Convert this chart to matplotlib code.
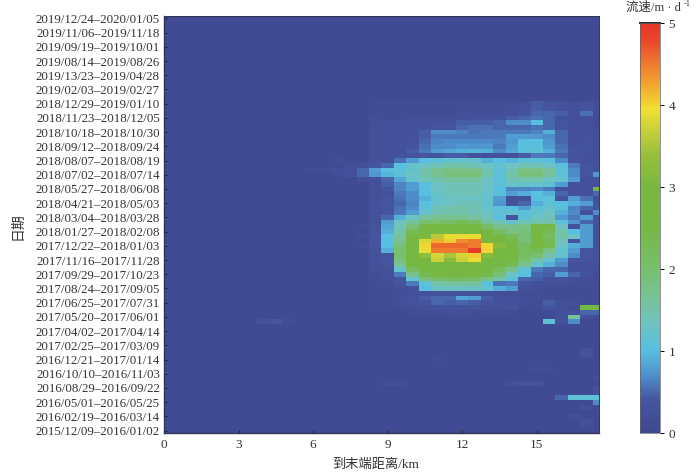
import numpy as np
import matplotlib
matplotlib.use('Agg')
import matplotlib.pyplot as plt
from matplotlib.colors import LinearSegmentedColormap

plt.rcParams['font.family'] = ['Liberation Serif', 'Noto Sans CJK SC', 'DejaVu Sans']

# tick labels, top to bottom
date_labels = [
    '2019/12/24–2020/01/05', '2019/11/06–2019/11/18', '2019/09/19–2019/10/01',
    '2019/08/14–2019/08/26', '2019/13/23–2019/04/28', '2019/02/03–2019/02/27',
    '2018/12/29–2019/01/10', '2018/11/23–2018/12/05', '2018/10/18–2018/10/30',
    '2018/09/12–2018/09/24', '2018/08/07–2018/08/19', '2018/07/02–2018/07/14',
    '2018/05/27–2018/06/08', '2018/04/21–2018/05/03', '2018/03/04–2018/03/28',
    '2018/01/27–2018/02/08', '2017/12/22–2018/01/03', '2017/11/16–2017/11/28',
    '2017/09/29–2017/10/23', '2017/08/24–2017/09/05', '2017/06/25–2017/07/31',
    '2017/05/20–2017/06/01', '2017/04/02–2017/04/14', '2017/02/25–2017/03/09',
    '2016/12/21–2017/01/14', '2016/10/10–2016/11/03', '2016/08/29–2016/09/22',
    '2016/05/01–2016/05/25', '2016/02/19–2016/03/14', '2015/12/09–2016/01/02',
]
km_ticks = [0, 3, 6, 9, 12, 15]
speed_ticks = [0, 1, 2, 3, 4, 5]

n_rows = 88
n_cols = 36
quiet = 0.12

# rows 18..64 from the top, columns 17..35 (9 km to the end)
active_rows = [
    [.2, .2, .2, .2, .2, .2, .2, .2, .2, .2, .2, .25, .3, .45, .4, .35, .3, .35, .2],
    [.2, .2, .2, .2, .2, .2, .2, .2, .2, .2, .25, .3, .35, .45, .4, .35, .3, .4, .2],
    [.2, .2, .2, .2, .2, .2, .2, .25, .25, .25, .25, .3, .4, .5, .5, .45, .3, .55, .2],
    [.25, .2, .2, .25, .25, .25, .25, .3, .35, .35, .35, .45, .5, .55, .5, .35, .3, .3, .2],
    [.25, .25, .25, .3, .3, .3, .35, .45, .45, .45, .5, .7, .7, 1.0, .5, .4, .3, .3, .2],
    [.3, .3, .3, .3, .35, .4, .4, .5, .55, .55, .5, .5, .5, .55, .5, .4, .3, .3, .2],
    [.3, .3, .3, .35, .45, .7, .7, .65, .55, .6, .6, .6, .6, .65, .9, .5, .3, .35, .25],
    [.3, .3, .3, .35, .45, .6, .6, .6, .6, .6, .6, .8, .8, .75, .7, .5, .3, .35, .25],
    [.3, .3, .3, .35, .5, .65, .7, .7, .7, .7, .65, .75, 1.0, 1.0, .75, .5, .3, .35, .25],
    [.3, .3, .35, .4, .55, .7, .7, .75, .75, .75, .6, .8, 1.05, 1.05, .8, .55, .35, .35, .25],
    [.3, .3, .35, .45, .6, .8, .85, .9, .95, .9, .7, .85, 1.05, 1.1, .9, .6, .4, .35, .3],
    [.3, .3, .35, .4, .4, .4, .45, .45, .35, .35, .35, .3, .45, .6, .6, .5, .35, .3, .3],
    [.3, .3, .55, .8, 1.0, 1.1, 1.2, 1.2, 1.2, .9, 1.0, .95, 1.1, 1.1, 1.05, .7, .4, .35, .3],
    [.4, .5, 1.0, 1.2, 1.3, 1.4, 1.5, 1.5, 1.4, 1.3, 1.2, 1.3, 1.4, 1.4, 1.3, 1.05, .6, .4, .3],
    [.8, 1.0, 1.1, 1.2, 1.5, 1.7, 1.8, 1.8, 1.75, 1.4, 1.1, 1.4, 1.8, 1.8, 1.6, 1.1, .7, .4, .3],
    [.75, .95, 1.1, 1.3, 1.5, 1.7, 1.9, 1.9, 1.9, 1.5, 1.1, 1.5, 1.9, 1.9, 1.6, 1.1, .7, .4, .75],
    [.3, .5, .85, 1.2, 1.4, 1.5, 1.6, 1.6, 1.6, 1.3, 1.1, 1.4, 1.5, 1.5, 1.3, 1.2, .8, .3, .3],
    [.3, .45, .65, .8, 1.05, 1.3, 1.4, 1.4, 1.4, 1.3, 1.1, 1.25, 1.2, 1.2, 1.1, .8, .35, .3, .3],
    [.3, .4, .65, .8, 1.0, 1.3, 1.4, 1.4, 1.4, 1.3, 1.05, .65, .65, .7, .6, .3, .3, .3, 2.6],
    [.3, .35, .6, .7, 1.0, 1.25, 1.35, 1.4, 1.4, 1.2, 1.05, .8, .9, 1.0, .9, .5, .3, .3, .5],
    [.3, .4, .55, .7, .9, 1.2, 1.3, 1.3, 1.3, 1.2, .8, .3, .35, 1.0, 1.1, .4, .8, .55, .3],
    [.3, .4, .5, .65, 1.0, 1.25, 1.3, 1.4, 1.4, 1.2, .75, .35, .5, .9, 1.1, 1.0, .9, .8, .35],
    [.3, .4, .55, .7, 1.1, 1.4, 1.5, 1.5, 1.4, 1.2, 1.1, 1.0, .8, 1.1, 1.2, 1.1, .65, .5, .4],
    [.3, .4, .6, .8, 1.2, 1.4, 1.5, 1.5, 1.4, 1.3, 1.1, 1.2, 1.1, 1.2, 1.3, .9, .7, .3, .7],
    [.35, .5, .9, 1.3, 1.6, 1.7, 1.7, 1.7, 1.6, 1.4, 1.0, .4, 1.1, 1.3, 1.4, .8, .6, .8, .3],
    [.35, .8, 1.3, 1.6, 2.0, 2.0, 2.1, 2.3, 2.1, 1.6, 1.4, 1.2, 1.4, 1.5, 1.5, 1.1, .75, .5, .35],
    [.35, .85, 1.4, 1.9, 2.5, 2.6, 2.6, 2.7, 2.6, 2.1, 1.7, 1.7, 1.8, 2.6, 2.5, 1.3, .35, .8, .35],
    [.4, .9, 1.5, 2.3, 2.7, 2.8, 2.8, 2.8, 2.8, 2.5, 2.1, 1.8, 1.9, 2.7, 2.3, 1.5, 1.0, .8, .3],
    [.4, 1.0, 1.6, 2.5, 3.1, 3.6, 3.9, 3.9, 3.9, 2.7, 2.7, 2.3, 1.9, 2.6, 2.2, 1.5, 1.3, .8, .3],
    [.4, 1.0, 1.7, 2.7, 3.8, 4.2, 4.05, 4.4, 4.5, 2.8, 2.8, 2.6, 1.9, 2.7, 2.3, 1.4, .4, .8, .3],
    [.4, 1.0, 1.9, 2.8, 4.0, 4.6, 4.6, 4.6, 4.5, 4.0, 3.2, 2.7, 2.2, 2.8, 2.4, 1.3, .9, .8, .3],
    [.35, .9, 2.0, 2.8, 3.9, 4.5, 4.5, 4.5, 4.9, 4.0, 2.9, 2.8, 2.2, 2.3, 1.8, 1.2, .8, .4, .3],
    [.3, .4, 2.0, 2.8, 3.3, 3.75, 3.5, 3.75, 4.05, 3.2, 2.8, 2.8, 2.1, 2.0, 1.5, 1.2, .7, .4, .3],
    [.3, .4, 1.9, 2.8, 3.0, 3.7, 3.2, 3.7, 3.9, 2.9, 2.8, 2.7, 2.0, 1.5, 1.2, .8, .4, .4, .3],
    [.3, .4, 1.6, 2.6, 2.8, 2.9, 2.9, 3.0, 2.9, 2.8, 2.6, 2.3, 1.7, 1.2, .9, .7, .3, .3, .25],
    [.3, .3, 1.2, 2.2, 2.6, 2.8, 2.8, 2.8, 2.7, 2.6, 2.2, 1.7, 1.1, .6, .5, .5, .3, .3, .25],
    [.25, .3, .6, 1.7, 2.4, 2.7, 2.7, 2.7, 2.7, 2.4, 1.9, 1.3, 1.0, .5, .45, .8, .5, .35, .2],
    [.2, .3, .4, 1.2, 1.9, 2.1, 2.2, 2.2, 2.1, 1.8, 1.5, 1.1, .5, .45, .35, .35, .3, .25, .2],
    [.2, .2, .4, .6, 1.1, 1.5, 1.6, 1.6, 1.6, 1.0, .55, .6, .4, .3, .3, .3, .25, .2, .2],
    [.2, .2, .3, .3, 1.0, 1.3, 1.3, 1.3, 1.25, 1.2, .9, .8, .3, .25, .2, .2, .2, .2, .2],
    [.2, .2, .22, .25, .25, .3, .3, .3, .3, .3, .25, .25, .2, .2, .2, .2, .2, .2, .2],
    [.2, .2, .28, .35, .45, .5, .5, .85, .8, .45, .35, .3, .22, .2, .2, .2, .2, .2, .2],
    [.2, .2, .28, .35, .4, .5, .45, .5, .45, .4, .3, .3, .22, .2, .45, .3, .25, .2, .2],
    [.18, .18, .2, .25, .3, .35, .35, .35, .35, .3, .3, .35, .2, .2, .4, .3, .2, 2.6, 2.6],
    [.15, .15, .15, .18, .2, .25, .25, .25, .2, .2, .2, .2, .15, .15, .15, .3, .3, .5, .5],
    [.15, .15, .15, .15, .15, .15, .18, .18, .18, .15, .15, .15, .15, .15, .15, .35, 1.6, .35, .2],
    [.15, .15, .15, .15, .15, .15, .15, .15, .15, .15, .15, .15, .15, .15, 1.1, .3, .7, .15, .15],
]

# isolated faint cells elsewhere: (row, column, speed)
scattered = [
    (30, 14, .22), (31, 15, .25), (31, 16, .3), (32, 12, .22), (32, 13, .22),
    (32, 14, .25), (32, 15, .3), (32, 16, .5), (33, 14, .22), (33, 15, .3),
    (33, 16, .5), (34, 16, .3), (44, 16, .2), (46, 16, .22), (48, 16, .2),
    (64, 8, .35), (64, 9, .42), (64, 10, .22), (70, 34, .35), (71, 34, .38),
    (72, 22, .18), (74, 30, .22), (74, 31, .22), (76, 35, .3), (77, 18, .25),
    (77, 19, .25), (77, 28, .3), (77, 29, .38), (77, 30, .38), (78, 35, .3),
    (79, 35, .3), (80, 32, .5), (80, 33, 1.1), (80, 34, 1.1), (80, 35, 1.1),
    (81, 35, .7), (82, 34, .3), (84, 33, .28), (85, 34, .32), (86, 34, .25),
]

flow = np.full((n_rows, n_cols), quiet)
flow[18:18 + len(active_rows), 17:] = active_rows
for r, c, v in scattered:
    flow[r, c] = v

nodes = [(0, '#3f478f'), (.4, '#46559f'), (.7, '#4f8fcc'), (1.0, '#58bfe0'),
         (1.3, '#6dc3c4'), (1.6, '#78c29c'), (2.0, '#78bf6e'), (2.5, '#76b846'),
         (3.0, '#78b840'), (3.4, '#98bf3c'), (3.7, '#c9d03a'), (3.95, '#f0e035'),
         (4.2, '#f2b030'), (4.5, '#ef7c2e'), (4.8, '#e9452b'), (5.0, '#e7352b')]
cmap = LinearSegmentedColormap.from_list('flow', [(v / 5, c) for v, c in nodes])

W, H = 700, 473
fig = plt.figure(figsize=(7, 4.73), dpi=100)
ax = fig.add_axes([164 / W, 1 - 433 / H, 435 / W, 417 / H])
cax = fig.add_axes([640 / W, 1 - 433 / H, 20 / W, 410 / H])

im = ax.imshow(flow, cmap=cmap, vmin=0, vmax=5, aspect='auto', interpolation='nearest',
               extent=[-0.25, 17.75, n_rows - 0.5, -0.5])
ax.set_xlim(0, 17.5)
ax.set_xticks(km_ticks)
ax.set_xticklabels([str(k) for k in km_ticks], fontsize=9.5, color='#333333')
ax.set_yticks(np.arange(len(date_labels)) * 3)
ax.set_yticklabels(date_labels, fontsize=9.3, color='#333333')
ax.tick_params(axis='both', direction='in', length=2.5, width=0.7, color='#222222', pad=3)
ax.tick_params(axis='x', pad=4)
for side in ax.spines:
    ax.spines[side].set_linewidth(0.7)
    ax.spines[side].set_color('#333355')
ax.spines['bottom'].set_linewidth(1.0)
ax.spines['left'].set_linewidth(1.0)

cb = fig.colorbar(im, cax=cax)
cb.set_ticks(speed_ticks)
cb.ax.tick_params(labelsize=9.5, length=3, width=0.7, pad=3, labelcolor='#333333')
cb.outline.set_linewidth(0.5)
cb.outline.set_edgecolor('#666666')
cb.ax.axhline(5, color='#222222', linewidth=1.4, clip_on=False)

fig.text(18 / W, 1 - 226.5 / H, '日期', rotation=90, ha='center', va='center', fontsize=10, color='#333333')
fig.text(375.5 / W, 1 - 465 / H, '到末端距离/km', ha='center', va='center', fontsize=9.5, color='#333333')
fig.text(626 / W, 1 - 8 / H, '流速/m · d', ha='left', va='center', fontsize=9, color='#333333')
fig.text(684 / W, 1 - 4 / H, '-1', ha='left', va='center', fontsize=6, color='#333333')

fig.savefig('out.png', dpi=100)
